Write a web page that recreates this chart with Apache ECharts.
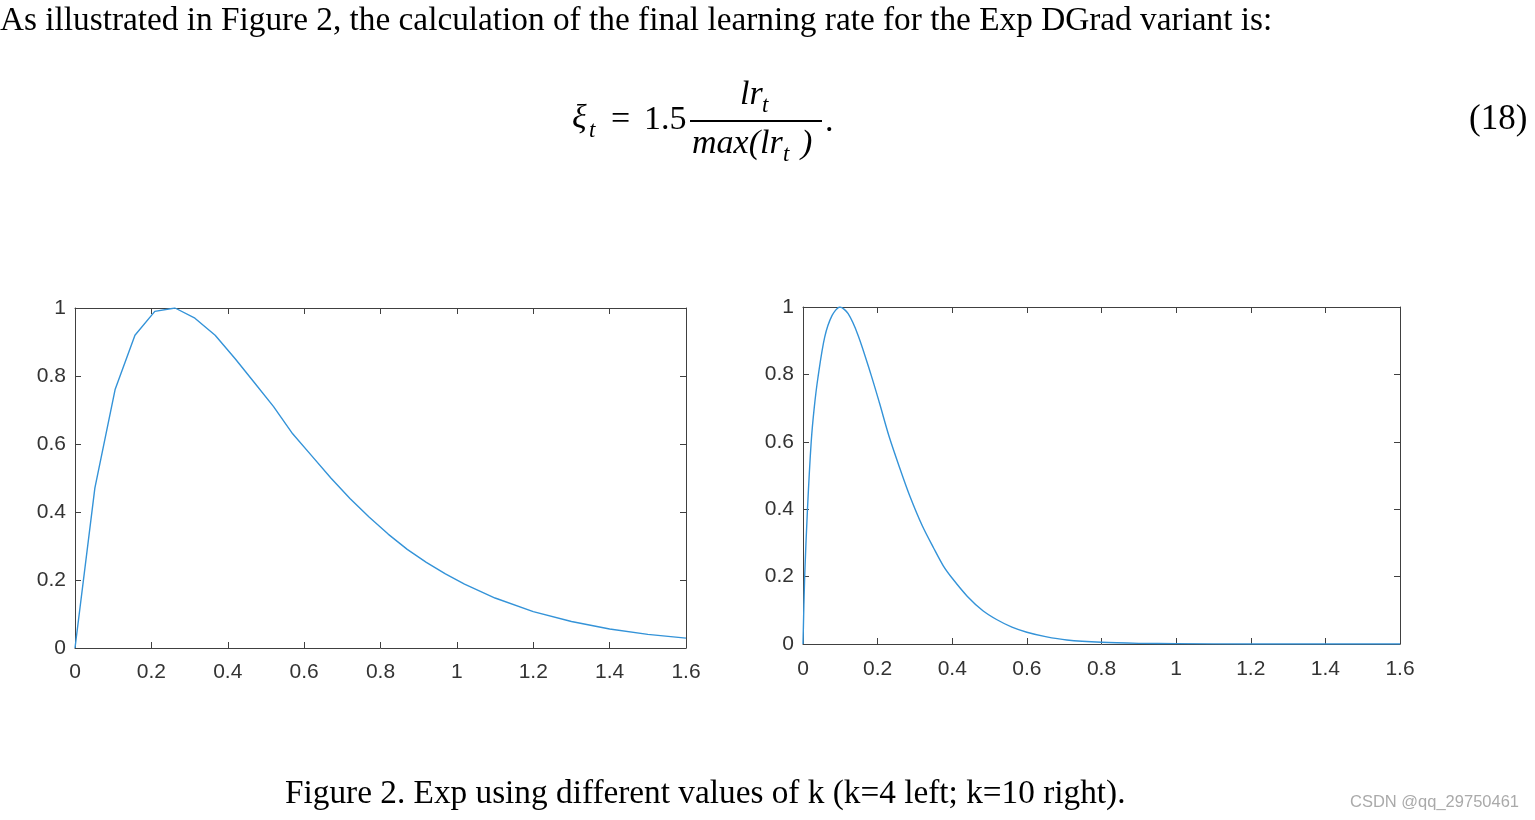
<!DOCTYPE html>
<html>
<head>
<meta charset="utf-8">
<title>Exp DGrad</title>
<script src="https://cdn.jsdelivr.net/npm/echarts@6/dist/echarts.min.js"></script>
<style>
  html, body { margin: 0; padding: 0; background: #fff; }
  #main { width: 1535px; height: 820px; }
</style>
</head>
<body>
<div id="main"></div>
<script>
// values (k=4 left, k=10 right)
var leftX = [0, 0.052, 0.105, 0.157, 0.209, 0.262, 0.314, 0.367, 0.42, 0.47, 0.52, 0.57, 0.62, 0.67, 0.72, 0.77, 0.82, 0.87, 0.92, 0.97, 1.02, 1.1, 1.2, 1.3, 1.4, 1.5, 1.6];
var leftY = [0, 0.47, 0.76, 0.92, 0.99, 1.0, 0.97, 0.92, 0.85, 0.78, 0.71, 0.63, 0.565, 0.5, 0.44, 0.385, 0.335, 0.29, 0.252, 0.218, 0.188, 0.147, 0.107, 0.078, 0.056, 0.04, 0.029];

var rightX = [0, 0.0045, 0.012, 0.022, 0.03, 0.04, 0.058, 0.078, 0.099, 0.121, 0.148, 0.182, 0.205, 0.231, 0.26, 0.286, 0.32, 0.35, 0.376, 0.4, 0.44, 0.483, 0.52, 0.56, 0.6, 0.65, 0.707, 0.8, 0.9, 1.0, 1.2, 1.4, 1.6];
var rightY = [0, 0.2, 0.4, 0.6, 0.7, 0.79, 0.91, 0.975, 1.0, 0.98, 0.915, 0.8, 0.715, 0.615, 0.52, 0.44, 0.35, 0.285, 0.232, 0.195, 0.142, 0.098, 0.072, 0.05, 0.035, 0.022, 0.012, 0.005, 0.002, 0.001, 0, 0, 0];

var xMin = 0, xMax = 1.6, xStep = 0.2;
var yMin = 0, yMax = 1, yStep = 0.2;

var axisColor = '#404040';
var labelColor = '#333';
var lineColor = '#3493d8';
var serif = '"Liberation Serif", "Times New Roman", serif';
var sans = '"Liberation Sans", Arial, sans-serif';

function pairs(xs, ys) {
  var out = [];
  for (var i = 0; i < xs.length; i++) out.push([xs[i], ys[i]]);
  return out;
}

function xAxisFor(g, pos, labels, margin) {
  return {
    gridIndex: g, type: 'value', position: pos,
    min: xMin, max: xMax, interval: xStep,
    axisLine: { show: true, onZero: false, lineStyle: { color: axisColor, width: 1 } },
    axisTick: { show: true, inside: true, length: 6, lineStyle: { color: axisColor } },
    axisLabel: { show: labels, color: labelColor, fontSize: 21, fontFamily: sans, margin: margin },
    splitLine: { show: false }
  };
}

function yAxisFor(g, pos, labels) {
  return {
    gridIndex: g, type: 'value', position: pos,
    min: yMin, max: yMax, interval: yStep,
    axisLine: { show: true, onZero: false, lineStyle: { color: axisColor, width: 1 } },
    axisTick: { show: true, inside: true, length: 6, lineStyle: { color: axisColor } },
    axisLabel: { show: labels, color: labelColor, fontSize: 21, fontFamily: sans, margin: 9 },
    splitLine: { show: false }
  };
}

function txt(x, y, s, font) {
  return { type: 'text', x: x, y: y, style: { text: s, font: font, fill: '#000', verticalAlign: 'middle' } };
}

var myChart = echarts.init(document.getElementById('main'));

var option = {
  backgroundColor: '#fff',
  animation: false,
  grid: [
    { left: 75, top: 308, width: 611, height: 340 },
    { left: 803, top: 307, width: 597, height: 337 }
  ],
  xAxis: [
    xAxisFor(0, 'bottom', true, 14), xAxisFor(0, 'top', false, 8),
    xAxisFor(1, 'bottom', true, 15), xAxisFor(1, 'top', false, 8)
  ],
  yAxis: [
    yAxisFor(0, 'left', true), yAxisFor(0, 'right', false),
    yAxisFor(1, 'left', true), yAxisFor(1, 'right', false)
  ],
  series: [
    {
      name: 'k=4', type: 'line', xAxisIndex: 0, yAxisIndex: 0,
      data: pairs(leftX, leftY), showSymbol: false, smooth: false,
      lineStyle: { color: lineColor, width: 1.4 }
    },
    {
      name: 'k=10', type: 'line', xAxisIndex: 2, yAxisIndex: 2,
      data: pairs(rightX, rightY), showSymbol: false, smooth: 0.3,
      lineStyle: { color: lineColor, width: 1.4 }
    }
  ],
  graphic: [
    // paragraph line
    txt(0, 21, 'As illustrated in Figure 2, the calculation of the final learning rate for the Exp DGrad variant is:', '33.3px ' + serif),
    // equation (18)
    txt(572, 119, 'ξ', 'italic 34px ' + serif),
    txt(589, 131, 't', 'italic 23px ' + serif),
    txt(611, 120, '=', '34px ' + serif),
    txt(644, 120, '1.5', '34px ' + serif),
    txt(740, 95, 'lr', 'italic 34px ' + serif),
    txt(762, 106, 't', 'italic 23px ' + serif),
    { type: 'rect', shape: { x: 690, y: 120, width: 132, height: 2 }, style: { fill: '#000' } },
    txt(692, 144, 'max(lr', 'italic 34px ' + serif),
    txt(783, 155, 't', 'italic 23px ' + serif),
    txt(801, 144, ')', 'italic 34px ' + serif),
    txt(825, 122, '.', '34px ' + serif),
    txt(1469, 120, '(18)', '35px ' + serif),
    // caption
    txt(285, 794, 'Figure 2. Exp using different values of k (k=4 left; k=10 right).', '33.3px ' + serif),
    // watermark
    { type: 'text', x: 1350, y: 802, style: { text: 'CSDN @qq_29750461', font: '16.5px ' + sans, fill: '#aaa', verticalAlign: 'middle' } }
  ]
};

myChart.setOption(option);
</script>
</body>
</html>
